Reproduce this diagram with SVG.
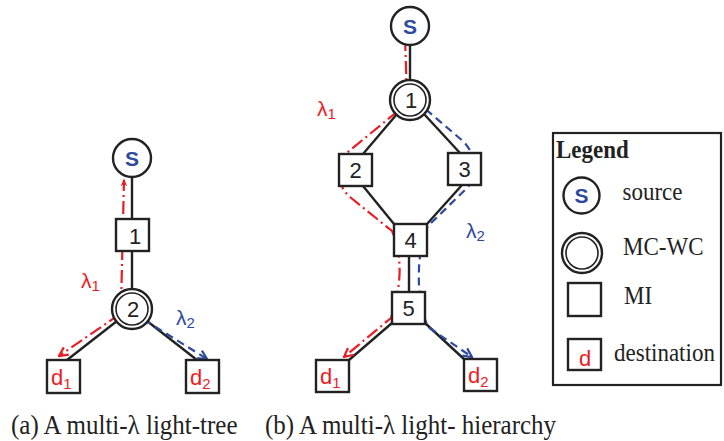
<svg xmlns="http://www.w3.org/2000/svg" width="724" height="441" viewBox="0 0 724 441">
<style>
.ln{stroke:#222;stroke-width:2.4;fill:none}
.nd{stroke:#222;stroke-width:2.4;fill:#fff}
.dc{stroke:#222;stroke-width:1.6;fill:#fff}
.red{stroke:#ec1c24;stroke-width:2.2;fill:none;stroke-dasharray:13 4 2 4}
.blue{stroke:#2e4a9e;stroke-width:2.2;fill:none;stroke-dasharray:8 5}
.num{font-family:"Liberation Sans",Arial,sans-serif;font-size:22px;fill:#222;text-anchor:middle}
.s{font-family:"Liberation Sans",Arial,sans-serif;font-size:21px;font-weight:bold;fill:#2e4a9e;text-anchor:middle}
.d{font-family:"Liberation Sans",Arial,sans-serif;font-size:22px;fill:#ec1c24}
.sub{font-size:15px}
.lr{font-family:"Liberation Sans",Arial,sans-serif;font-size:21px;fill:#ec1c24}
.lb{font-family:"Liberation Sans",Arial,sans-serif;font-size:21px;fill:#2e4a9e}
.cap{font-family:"Liberation Serif","Times New Roman",serif;font-size:25px;fill:#222}
.lg{font-family:"Liberation Serif","Times New Roman",serif;font-size:23px;fill:#222}
</style>
<defs>
<marker id="oR" viewBox="0 0 10 10" refX="9" refY="5" markerWidth="11" markerHeight="11" markerUnits="userSpaceOnUse" orient="auto"><path d="M1,1 L9,5 L1,9" fill="none" stroke="#ec1c24" stroke-width="2"/></marker>
<marker id="oB" viewBox="0 0 10 10" refX="9" refY="5" markerWidth="11" markerHeight="11" markerUnits="userSpaceOnUse" orient="auto"><path d="M1,1 L9,5 L1,9" fill="none" stroke="#2e4a9e" stroke-width="2"/></marker>
<marker id="fR" viewBox="0 0 10 10" refX="8" refY="5" markerWidth="8" markerHeight="8" markerUnits="userSpaceOnUse" orient="auto"><path d="M0,1 L10,5 L0,9 L3,5 Z" fill="#ec1c24"/></marker>
</defs>

<g id="edges">
<line class="ln" x1="132" y1="177" x2="132" y2="219"/>
<line class="ln" x1="132" y1="251" x2="132" y2="289"/>
<line class="ln" x1="117" y1="321" x2="67" y2="360"/>
<line class="ln" x1="147" y1="321" x2="197" y2="360"/>
<line class="ln" x1="410" y1="45" x2="410" y2="80"/>
<line class="ln" x1="397" y1="114" x2="363" y2="154"/>
<line class="ln" x1="424" y1="114" x2="460" y2="153"/>
<line class="ln" x1="363" y1="186" x2="394" y2="224"/>
<line class="ln" x1="462" y1="185" x2="427" y2="224"/>
<line class="ln" x1="409" y1="256" x2="409" y2="292"/>
<line class="ln" x1="392" y1="323" x2="349" y2="360"/>
<line class="ln" x1="425" y1="323" x2="465" y2="360"/>
</g>

<g id="paths">
<path class="red" d="M121 306 L124 180" marker-end="url(#fR)"/>
<path class="red" d="M120 314 L59 356" marker-end="url(#oR)"/>
<path class="blue" d="M122 306 L207 359" marker-end="url(#oB)"/>
<path class="red" d="M407 97 L405 37" marker-end="url(#fR)"/>
<path class="red" d="M398 111 L349 151 C335 165,336 185,350 197 L392 231 C398 245,401 262,399 282 C397 300,394 308,391 318 L344 357" marker-end="url(#oR)"/>
<path class="blue" d="M416 101 L464 142 C478 158,478 178,466 189 L428 226 C421 240,418 262,419 285 C420 305,423 315,428 327 L472 357" marker-end="url(#oB)"/>
</g>

<g id="labels">
<text class="lr" x="81" y="288">λ<tspan class="sub" dy="3">1</tspan></text>
<text class="lb" x="176" y="325">λ<tspan class="sub" dy="3">2</tspan></text>
<text class="lr" x="317" y="116">λ<tspan class="sub" dy="3">1</tspan></text>
<text class="lb" x="466" y="238">λ<tspan class="sub" dy="3">2</tspan></text>
</g>

<g id="a-S"><circle class="nd" cx="132" cy="158" r="19"/><text class="s" x="132" y="165.5">S</text></g>
<g id="a-1"><rect class="nd" x="116" y="219" width="33" height="32"/><text class="num" x="135" y="243.5">1</text></g>
<g id="a-2"><circle class="nd" cx="132" cy="309" r="20"/><circle class="dc" cx="132" cy="309" r="16"/><text class="num" x="133" y="317">2</text></g>
<g id="a-d1"><rect class="nd" x="47" y="360" width="33" height="33"/><text class="d" x="51" y="385">d<tspan class="sub" dy="4">1</tspan></text></g>
<g id="a-d2"><rect class="nd" x="186" y="360" width="33" height="33"/><text class="d" x="190" y="385">d<tspan class="sub" dy="4">2</tspan></text></g>

<g id="b-S"><circle class="nd" cx="410" cy="26" r="19"/><text class="s" x="410" y="33.5">S</text></g>
<g id="b-1"><circle class="nd" cx="410" cy="100" r="20"/><circle class="dc" cx="410" cy="100" r="16"/><text class="num" x="411" y="108">1</text></g>
<g id="b-2"><rect class="nd" x="339" y="154" width="33" height="32"/><text class="num" x="355.5" y="178">2</text></g>
<g id="b-3"><rect class="nd" x="448" y="153" width="33" height="32"/><text class="num" x="464.5" y="177">3</text></g>
<g id="b-4"><rect class="nd" x="394" y="224" width="33" height="32"/><text class="num" x="410.5" y="248">4</text></g>
<g id="b-5"><rect class="nd" x="392" y="292" width="33" height="32"/><text class="num" x="408.5" y="316">5</text></g>
<g id="b-d1"><rect class="nd" x="316" y="360" width="33" height="32"/><text class="d" x="320" y="384">d<tspan class="sub" dy="4">1</tspan></text></g>
<g id="b-d2"><rect class="nd" x="464" y="359" width="33" height="32"/><text class="d" x="468" y="383">d<tspan class="sub" dy="4">2</tspan></text></g>

<g id="legend">
<rect x="553" y="133" width="168" height="252" fill="#fff" stroke="#222" stroke-width="2.2"/>
<text class="lg" font-weight="bold" transform="translate(556,157.5) scale(1,1.12)">Legend</text>
<circle class="nd" cx="581.5" cy="195.5" r="18"/><text class="s" x="581.5" y="203">S</text>
<text class="lg" transform="translate(622.5,200) scale(1,1.12)">source</text>
<circle class="nd" cx="582" cy="253" r="20"/><circle class="dc" cx="582" cy="253" r="16"/>
<text class="lg" transform="translate(623,255) scale(1,1.12)">MC-WC</text>
<rect class="nd" x="568" y="283" width="33" height="33"/>
<text class="lg" transform="translate(624,304) scale(1,1.12)">MI</text>
<rect class="nd" x="568" y="339" width="33" height="31"/><text class="d" x="585" y="366" text-anchor="middle">d</text>
<text class="lg" transform="translate(614,360.5) scale(1,1.12)">destination</text>
</g>

<g id="captions">
<text class="cap" transform="translate(11,434) scale(1,1.1)">(a) A multi-λ light-tree</text>
<text class="cap" transform="translate(265,434) scale(1,1.1)">(b) A multi-λ light- hierarchy</text>
</g>
</svg>
